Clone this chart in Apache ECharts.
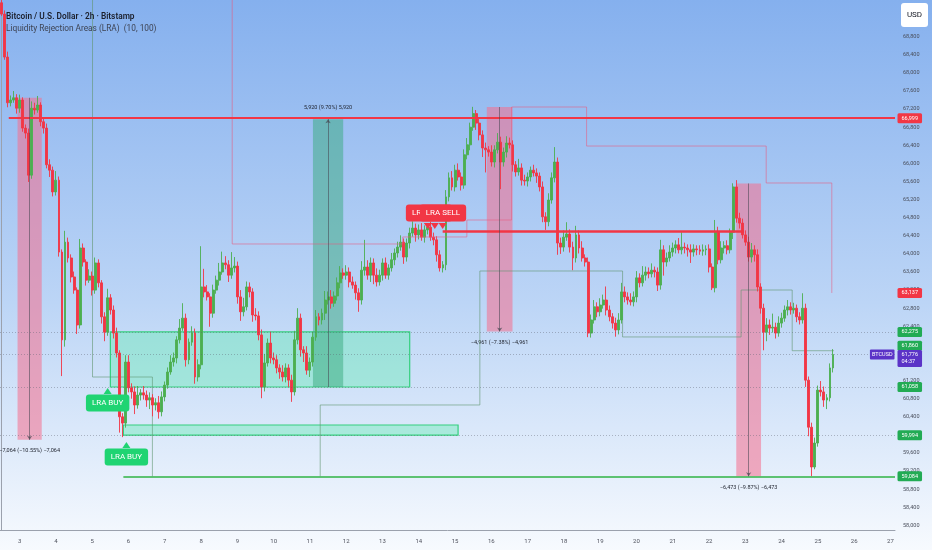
<!DOCTYPE html>
<html>
<head>
<meta charset="utf-8">
<script src="https://cdn.jsdelivr.net/npm/echarts@6/dist/echarts.min.js"></script>
<style>
html, body { margin: 0; padding: 0; }
#chart { width: 932px; height: 550px; background: linear-gradient(180deg, #85b0ee 0%, #bcd5f6 55%, #f7fafe 100%); }
</style>
</head>
<body>
<div id="chart"></div>
<script>
// BTCUSD 2h candles, first bar = day 2 12:00, open of first bar
var firstOpen = 69550;
var closes = [
    69300, 68350, 67340, 67400, 67450, 67220,
    67400, 66780, 66670, 65740, 67220, 67180, 67290, 66920, 66780, 65970, 65850, 65370,
    65630, 64040, 62100, 64260, 63910, 63490, 63200, 62430, 64130, 63820, 63420, 63510,
    63200, 63800, 63360, 62610, 62270, 63030, 62760, 62250, 61810, 60400, 60260, 61610,
    61040, 60950, 60660, 60880, 60930, 60880, 60770, 60820, 60660, 60710, 60510, 60840,
    61100, 61390, 61610, 61700, 62100, 62360, 62580, 61660, 62050, 62250, 61280, 61550,
    63270, 63160, 63050, 62690, 63200, 63420, 63600, 63800, 63760, 63530, 63690, 63730,
    63050, 62720, 62830, 63270, 63160, 62650, 62630, 62210, 61060, 61590, 62030, 61700,
    61660, 61480, 61390, 61280, 61480, 61210, 60950, 62100, 62580, 61880, 61810, 61430,
    61610, 62160, 62610, 62540, 62690, 62980, 63050, 62910, 63070, 63360, 63580, 63530,
    63600, 63380, 63310, 63140, 62980, 63640, 63710, 63530, 63800, 63530, 63380, 63530,
    63800, 63530, 63690, 63870, 64020, 64150, 64260, 63930, 64240, 64460, 64570, 64420,
    64530, 64370, 64530, 64590, 64370, 64310, 63980, 63690, 63760, 65260, 65680, 65480,
    65850, 65700, 65520, 66190, 66410, 66800, 67100, 66890, 66630, 66340, 66300, 66250,
    66030, 66300, 66470, 66030, 66250, 66450, 66410, 65970, 65810, 65900, 65630, 65610,
    65700, 65850, 65790, 65720, 65480, 64820, 64710, 65190, 65680, 66030, 64240, 64150,
    64370, 64440, 64150, 63910, 64420, 64130, 63910, 63820, 62250, 62540, 62830, 62720,
    62870, 62980, 62760, 62610, 62470, 62320, 62540, 63160, 63050, 62980, 62940, 63050,
    63470, 63360, 63530, 63600, 63560, 63640, 63600, 63310, 64090, 63820, 63910, 64040,
    64130, 64200, 64090, 64150, 64130, 64090, 64040, 64110, 64090, 64060, 64090, 64110,
    63710, 63250, 64480, 63870, 64130, 64180, 64090, 64480, 65480, 64790, 64680, 64420,
    64260, 63930, 64090, 63980, 63270, 62800, 62270, 62430, 62360, 62380, 62250, 62470,
    62580, 62760, 62830, 62760, 62800, 62610, 62540, 62800, 61210, 60170, 59290, 59820,
    60990, 60950, 60770, 60820, 61480, 61776
];
// wick lengths above / below the body, USD
var wickHi = [
    60, 80, 120, 100, 150, 80,
    120, 60, 80, 100, 150, 120, 200, 60, 80, 100, 120, 80,
    200, 80, 60, 250, 100, 80, 120, 60, 200, 100, 60, 150,
    100, 120, 80, 60, 100, 200, 80, 100, 120, 60, 80, 150,
    150, 100, 120, 200, 80, 150, 100, 120, 80, 100, 150, 120,
    80, 100, 150, 120, 80, 200, 330, 100, 80, 150, 100, 120,
    900, 400, 150, 80, 120, 100, 200, 250, 150, 100, 350, 200,
    100, 150, 200, 120, 100, 80, 150, 100, 120, 200, 100, 250,
    120, 100, 80, 150, 100, 80, 120, 200, 220, 100, 80, 150,
    100, 120, 150, 80, 100, 200, 120, 150, 100, 120, 150, 100,
    150, 100, 120, 80, 100, 200, 600, 150, 120, 100, 150, 120,
    100, 120, 80, 150, 100, 120, 150, 80, 100, 120, 150, 100,
    120, 150, 100, 80, 120, 100, 80, 100, 80, 150, 120, 150,
    120, 150, 100, 120, 150, 100, 150, 80, 120, 100, 120, 80,
    150, 100, 200, 120, 100, 150, 120, 100, 80, 200, 100, 120,
    100, 80, 120, 100, 80, 120, 100, 150, 120, 330, 100, 120,
    150, 260, 100, 120, 200, 100, 150, 80, 100, 120, 150, 100,
    150, 120, 300, 100, 80, 120, 150, 200, 120, 100, 150, 120,
    150, 100, 200, 120, 100, 150, 80, 100, 220, 100, 120, 150,
    120, 100, 150, 330, 100, 80, 120, 100, 80, 100, 120, 80,
    100, 80, 270, 120, 150, 100, 120, 80, 80, 150, 120, 100,
    100, 120, 150, 100, 120, 80, 100, 150, 120, 300, 100, 150,
    120, 100, 150, 100, 120, 80, 100, 330, 100, 80, 100, 120,
    100, 200, 120, 80, 100, 120
];
var wickLo = [
    40, 60, 100, 80, 60, 120,
    100, 80, 120, 150, 80, 100, 60, 100, 120, 80, 150, 100,
    80, 100, 800, 150, 100, 120, 80, 200, 80, 100, 120, 60,
    120, 80, 100, 150, 200, 80, 100, 120, 100, 350, 310, 100,
    100, 150, 200, 80, 120, 100, 150, 200, 250, 120, 150, 100,
    100, 80, 60, 100, 120, 80, 60, 150, 100, 80, 150, 100,
    100, 120, 80, 300, 100, 80, 120, 60, 100, 150, 80, 100,
    150, 200, 100, 80, 120, 150, 100, 120, 250, 100, 80, 120,
    100, 120, 150, 100, 120, 150, 220, 80, 100, 150, 200, 100,
    150, 100, 80, 120, 100, 150, 100, 120, 80, 100, 120, 80,
    100, 120, 80, 150, 260, 100, 120, 100, 150, 200, 100, 80,
    120, 80, 100, 80, 120, 100, 80, 150, 100, 120, 80, 150,
    100, 80, 120, 100, 80, 120, 150, 80, 100, 120, 100, 80,
    100, 80, 120, 80, 100, 120, 80, 150, 120, 200, 500, 100,
    100, 120, 80, 600, 100, 120, 80, 150, 100, 80, 120, 100,
    120, 100, 80, 150, 100, 120, 180, 100, 80, 100, 260, 150,
    100, 80, 120, 270, 100, 120, 80, 100, 90, 100, 80, 120,
    100, 80, 120, 100, 120, 150, 100, 80, 120, 100, 80, 100,
    120, 100, 80, 120, 100, 80, 120, 130, 100, 300, 100, 80,
    100, 120, 80, 100, 120, 150, 240, 100, 120, 80, 100, 120,
    120, 50, 100, 100, 80, 120, 100, 80, 150, 100, 120, 80,
    80, 100, 120, 150, 100, 120, 400, 200, 150, 100, 120, 80,
    100, 80, 120, 100, 80, 120, 100, 80, 150, 200, 200, 50,
    80, 100, 150, 200, 80, 100
];

var dayLabels = ['3', '4', '5', '6', '7', '8', '9', '10', '11', '12', '13', '14', '15',
    '16', '17', '18', '19', '20', '21', '22', '23', '24', '25', '26', '27'];
var slotCount = 296;
var priceMin = 57898;
var priceMax = 69611;
var priceTicks = [58000, 58400, 58800, 59200, 59600, 60000, 60400, 60800, 61200, 61600,
    62000, 62400, 62800, 63200, 63600, 64000, 64400, 64800, 65200, 65600, 66000, 66400,
    66800, 67200, 67600, 68000, 68400, 68800];

// levels from the LRA indicator (bar index, price)
var lastPrice = 61776;
var lastTime = '04:37';
var levelTop = 66999;
var levelSell = 64506;
var levelBase = 59084;
var buyZones = [
    [36, 135, 61058, 62275],
    [40.3, 151, 59994, 60219]
];
var pinkStep = [[76.3, 69611], [76.3, 64219], [132.7, 64219], [132.7, 64374], [153.9, 64374],
    [153.9, 64749], [168.7, 64749], [168.7, 67246], [193.5, 67246], [193.5, 66384],
    [252.9, 66384], [252.9, 65567], [274.6, 65567], [274.6, 63137]];
var greenStepA = [[30.1, 69611], [30.1, 61279], [49.9, 61279], [49.9, 59084]];
var greenStepB = [[105.4, 59084], [105.4, 60661], [158.2, 60661], [158.2, 63622],
    [205.4, 63622], [205.4, 62164], [244.6, 62164], [244.6, 63202], [261.5, 63202],
    [261.5, 61860], [275.3, 61860]];
// price range measurements: [startIdx, endIdx, from, to, text]
var measures = [
    [5.3, 13.3, 67450, 59890, '\u22127,064 (\u221210.55%) \u22127,064'],
    [103, 113, 61058, 66978, '5,920 (9.70%) 5,920'],
    [160.5, 169, 67246, 62285, '\u22124,961 (\u22127.38%) \u22124,961'],
    [243, 251.2, 65557, 59084, '\u22126,473 (\u22129.87%) \u22126,473']
];
var buySignals = [[35.1, 61036], [41.3, 59843]];
var sellSignals = [[141.4, 64550], [146, 64550]];
var sellArrows = [[141, 64550], [143.3, 64550], [145.9, 64550]];
// right axis badges: price, colour
var badges = [
    [66999, '#f23645'],
    [63137, '#f23645'],
    [62275, '#22ab54'],
    [61860, '#22ab54'],
    [61058, '#22ab54'],
    [59994, '#22ab54'],
    [59084, '#22ab54']
];

var categories = [];
for (var i = 0; i < slotCount; i++) {
    var k = (i - 6) / 12;
    categories.push(k >= 0 && k === Math.floor(k) && dayLabels[k] ? dayLabels[k] : '');
}
var candles = [];
for (var i = 0; i < closes.length; i++) {
    var o = i === 0 ? firstOpen : closes[i - 1];
    var c = closes[i];
    candles.push([o, c, Math.min(o, c) - wickLo[i], Math.max(o, c) + wickHi[i]]);
}

function fmt(v) {
    return String(v).replace(/\B(?=(\d{3})+(?!\d))/g, ',');
}

var FONT = 'Roboto, "Liberation Sans", sans-serif';
var UP = '#4caf50', DOWN = '#f23645';
var BUY = '#1fd472';

var areaData = [];
buyZones.forEach(function (z) {
    areaData.push([
        {coord: [z[0], z[3]], itemStyle: {color: 'rgba(95,235,175,0.4)', borderColor: '#34d07e', borderWidth: 1.2}},
        {coord: [z[1], z[2]]}
    ]);
});
measures.forEach(function (m) {
    var up = m[3] > m[2];
    areaData.push([
        {
            coord: [m[0], up ? m[3] : m[2]],
            itemStyle: {color: up ? 'rgba(55,170,125,0.5)' : 'rgba(245,110,140,0.55)'},
            label: {
                show: true, position: up ? 'top' : 'bottom', distance: up ? 9 : 8,
                formatter: m[4], color: '#1e222d', fontSize: 5.5, fontFamily: FONT
            }
        },
        {coord: [m[1], up ? m[2] : m[3]]}
    ]);
});

var lineData = [
    [{coord: [2.4, levelTop], lineStyle: {color: DOWN, width: 1.8, type: 'solid'}}, {coord: [295.5, levelTop]}],
    [{coord: [145.9, levelSell], lineStyle: {color: DOWN, width: 2.6, type: 'solid'}}, {coord: [245.6, levelSell]}],
    [{coord: [40.3, levelBase], lineStyle: {color: '#2fb344', width: 1.5, type: 'solid'}}, {coord: [295.5, levelBase]}]
];
[62275, 61058, 59994, lastPrice].forEach(function (p) {
    lineData.push({yAxis: p, lineStyle: {color: 'rgba(90,95,110,0.5)', width: 0.8, type: [1, 2]}});
});
measures.forEach(function (m) {
    var cx = (m[0] + m[1]) / 2;
    lineData.push([
        {coord: [cx, m[2]], symbol: 'none', lineStyle: {color: 'rgba(70,70,80,0.7)', width: 0.8, type: 'solid'}},
        {coord: [cx, m[3]], symbol: 'arrow', symbolSize: 4}
    ]);
});

function tag(coord, text, color, dy) {
    return {coord: coord, symbol: 'rect', symbolSize: 1, itemStyle: {color: 'rgba(0,0,0,0)'},
        label: {show: true, position: 'inside', offset: [0, dy], formatter: text,
            backgroundColor: color, color: '#fff', fontSize: 8, fontFamily: FONT,
            padding: [5, 6, 4, 6], borderRadius: 3}};
}

var pointData = [];
buySignals.forEach(function (s) {
    pointData.push({coord: s, symbol: 'triangle', symbolSize: [8, 6], symbolOffset: [0, 3],
        itemStyle: {color: BUY}, label: {show: false}});
    pointData.push(tag(s, 'LRA BUY', BUY, 15));
});
sellArrows.forEach(function (s) {
    pointData.push({coord: s, symbol: 'triangle', symbolRotate: 180, symbolSize: [8, 6], symbolOffset: [0, -3],
        itemStyle: {color: DOWN}, label: {show: false}});
});
sellSignals.forEach(function (s) {
    pointData.push(tag(s, 'LRA SELL', DOWN, -16));
});
badges.forEach(function (b) {
    pointData.push({coord: [295.5, b[0]], symbol: 'rect', symbolSize: 1, itemStyle: {color: 'rgba(0,0,0,0)'},
        label: {show: true, position: 'right', distance: 2, formatter: fmt(b[0]),
            offset: [0, b[0] === 61860 ? -5 : 0],
            backgroundColor: b[1], color: '#fff', fontSize: 5.5, fontFamily: FONT,
            padding: [2, 4], borderRadius: 1.5}});
});
pointData.push({coord: [295.5, lastPrice], symbol: 'rect', symbolSize: 1, itemStyle: {color: 'rgba(0,0,0,0)'},
    label: {show: true, position: 'right', distance: 2, offset: [0, 4], formatter: fmt(lastPrice) + '\n' + lastTime,
        backgroundColor: '#5b33c7', color: '#fff', fontSize: 5.5, lineHeight: 7, fontFamily: FONT,
        padding: [1.5, 4], borderRadius: 1.5}});
pointData.push({coord: [295.5, lastPrice], symbol: 'rect', symbolSize: 1, itemStyle: {color: 'rgba(0,0,0,0)'},
    label: {show: true, position: 'left', distance: 0, formatter: 'BTCUSD',
        backgroundColor: '#5b33c7', color: '#fff', fontSize: 5.5, fontFamily: FONT,
        padding: [2, 2], borderRadius: 1}});

var chart = echarts.init(document.getElementById('chart'));
chart.setOption({
    animation: false,
    title: {
        text: 'Bitcoin / U.S. Dollar \u00b7 2h \u00b7 Bitstamp',
        subtext: 'Liquidity Rejection Areas (LRA)  (10, 100)',
        left: 1, top: 8, itemGap: 4,
        textStyle: {fontSize: 8.3, fontWeight: 600, color: '#1b1f2b', fontFamily: FONT},
        subtextStyle: {fontSize: 8.3, color: '#3d4353', fontFamily: FONT}
    },
    graphic: [{
        type: 'group', right: 4, top: 3,
        children: [
            {type: 'rect', shape: {x: 0, y: 0, width: 27, height: 24, r: 3}, style: {fill: '#ffffff'}},
            {type: 'text', x: 13.5, y: 12, style: {text: 'USD', fontSize: 8, fill: '#131722', fontFamily: FONT, align: 'center', verticalAlign: 'middle'}}
        ]
    }],
    grid: {left: 0, right: 37, top: 0, bottom: 20},
    xAxis: [{
        type: 'category',
        data: categories,
        axisLine: {lineStyle: {color: '#9ba1ad'}},
        axisTick: {show: false},
        axisLabel: {
            interval: function (idx, val) { return val !== ''; },
            fontSize: 6, color: '#50535e', margin: 8, fontFamily: FONT
        },
        splitLine: {show: false}
    }, {
        type: 'value', min: -0.5, max: slotCount - 0.5, show: false
    }],
    yAxis: {
        type: 'value',
        position: 'right',
        min: priceMin,
        max: priceMax,
        scale: true,
        axisLine: {show: true, lineStyle: {color: '#9ba1ad'}},
        axisTick: {show: false},
        splitLine: {show: false},
        axisLabel: {
            customValues: priceTicks,
            formatter: function (v) { return fmt(v); },
            fontSize: 5.5, color: '#4a4f5c', margin: 8, fontFamily: FONT
        }
    },
    series: [{
        type: 'line',
        xAxisIndex: 1,
        z: 1,
        data: greenStepA,
        showSymbol: false,
        lineStyle: {color: 'rgba(95,150,110,0.75)', width: 0.8},
        markArea: {silent: true, data: areaData}
    }, {
        type: 'line',
        xAxisIndex: 1,
        z: 1,
        data: greenStepB,
        showSymbol: false,
        lineStyle: {color: 'rgba(95,150,110,0.75)', width: 0.8}
    }, {
        type: 'candlestick',
        z: 2,
        data: candles,
        barWidth: '80%',
        itemStyle: {color: UP, color0: DOWN, borderColor: UP, borderColor0: DOWN, borderWidth: 0.9}
    }, {
        type: 'line',
        xAxisIndex: 1,
        z: 3,
        data: pinkStep,
        showSymbol: false,
        lineStyle: {color: 'rgba(232,90,125,0.7)', width: 0.8},
        markLine: {silent: true, symbol: ['none', 'none'], label: {show: false}, data: lineData},
        markPoint: {silent: true, data: pointData}
    }]
});
</script>
</body>
</html>
